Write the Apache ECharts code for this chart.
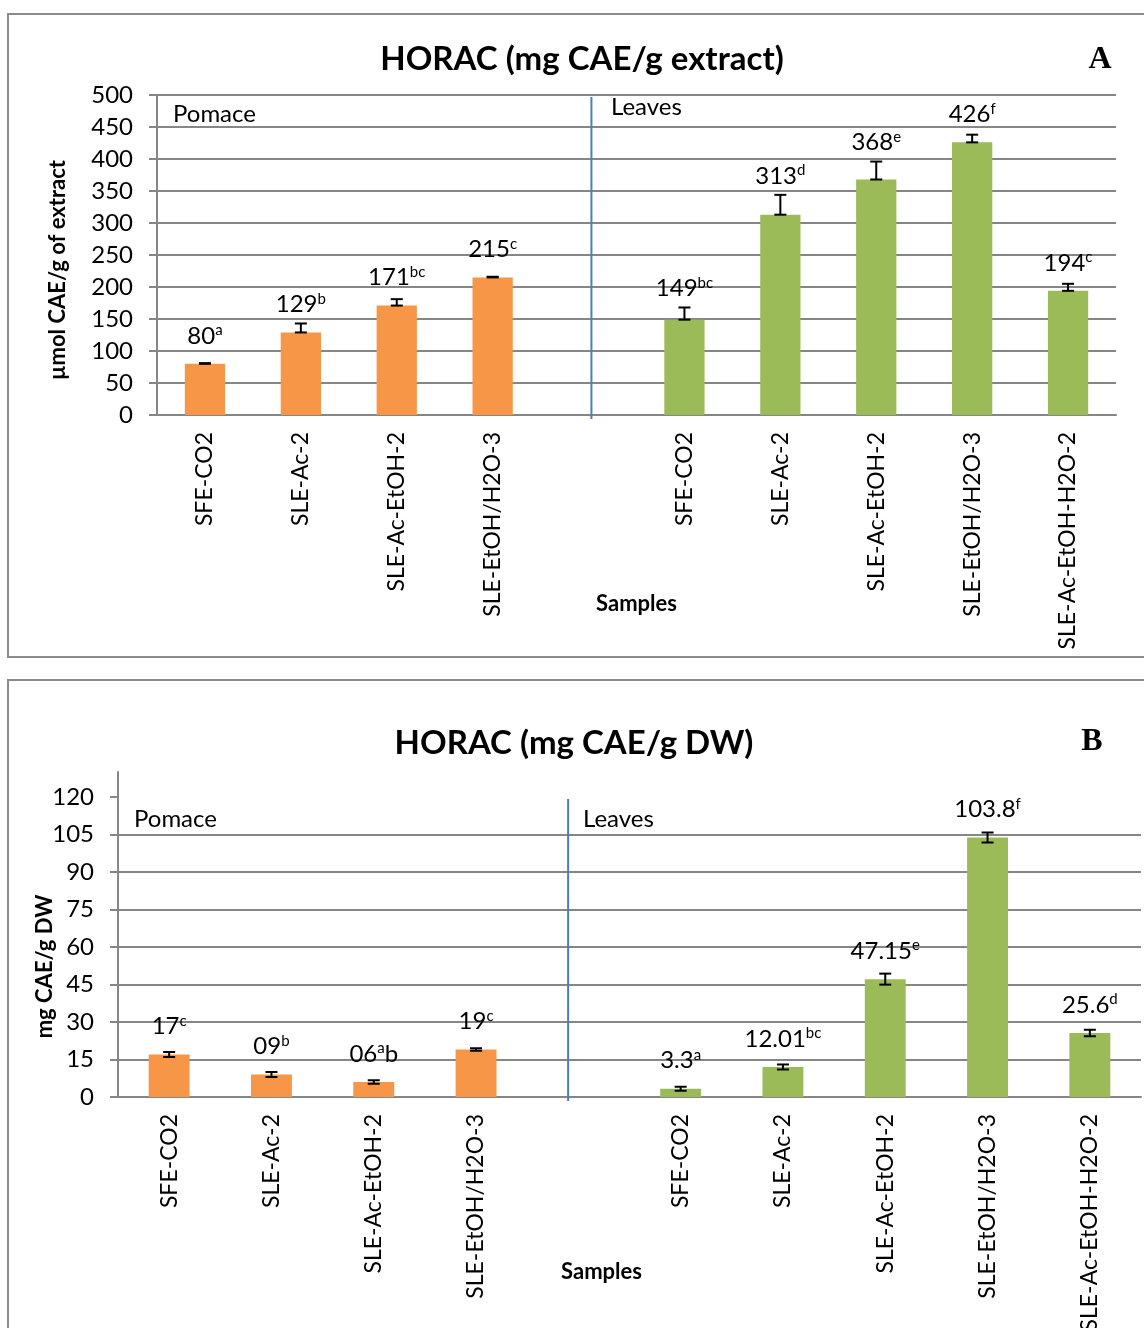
<!DOCTYPE html>
<html>
<head>
<meta charset="utf-8">
<script src="https://cdn.jsdelivr.net/npm/echarts@6/dist/echarts.min.js"></script>
<style>
  html, body { margin: 0; padding: 0; background: #fff; }
  #chart { width: 1144px; height: 1328px; }
</style>
</head>
<body>
<div id="chart"></div>
<script>
// Sample names along the x axis; the blank slot separates pomace from leaves
const samples = ['SFE-CO2', 'SLE-Ac-2', 'SLE-Ac-EtOH-2', 'SLE-EtOH/H2O-3', '',
                 'SFE-CO2', 'SLE-Ac-2', 'SLE-Ac-EtOH-2', 'SLE-EtOH/H2O-3', 'SLE-Ac-EtOH-H2O-2'];
const groups = ['Pomace', 'Pomace', 'Pomace', 'Pomace', null,
                'Leaves', 'Leaves', 'Leaves', 'Leaves', 'Leaves'];

// Panel A: HORAC per g extract
const extractValues  = [80, 129, 171, 215, null, 149, 313, 368, 426, 194];
const extractText    = ['80', '129', '171', '215', '', '149', '313', '368', '426', '194'];
const extractLetters = ['a', 'b', 'bc', 'c', '', 'bc', 'd', 'e', 'f', 'c'];
const extractTrail   = ['', '', '', '', '', '', '', '', '', ''];
const extractErr     = [1, 14, 10, 1, null, 19, 31, 28, 12, 11];
const extractTicks   = [0, 50, 100, 150, 200, 250, 300, 350, 400, 450, 500];

// Panel B: HORAC per g dry weight
const dwValues  = [17, 9, 6, 19, null, 3.3, 12.01, 47.15, 103.8, 25.6];
const dwText    = ['17', '09', '06', '19', '', '3.3', '12.01', '47.15', '103.8', '25.6'];
const dwLetters = ['c', 'b', 'a', 'c', '', 'a', 'bc', 'e', 'f', 'd'];
const dwTrail   = ['', '', 'b', '', '', '', '', '', '', ''];
const dwErr     = [1, 1, 0.7, 0.5, null, 0.8, 1, 2.2, 2, 1.3];
const dwTicks   = [0, 15, 30, 45, 60, 75, 90, 105, 120];

const FONT = 'Lato';
const GRID_COLOR = '#868686';
const groupColor = { Pomace: '#F79646', Leaves: '#9BBB59' };

// plot frames
const gridA = { left: 157, top: 95, width: 959, height: 320 };
const gridB = { left: 118, top: 772, width: 1023, height: 325 };
const axisMaxA = 500, axisMaxB = 130;

function barSeries(idx, values, text, letters, trail, errs, pxPerUnit) {
  return {
    type: 'bar', xAxisIndex: idx, yAxisIndex: idx,
    barWidth: idx === 0 ? '42%' : '40%',
    data: values.map((v, i) => {
      if (v == null) return '-';
      // keep the value label clear of the whisker above the bar
      const errPx = (errs[i] || 0) * pxPerUnit;
      return { value: v, label: { distance: Math.max(15, errPx + 6) } };
    }),
    itemStyle: { color: p => groupColor[groups[p.dataIndex]] || '#999' },
    label: {
      show: true, position: 'top',
      formatter: p => {
        const i = p.dataIndex;
        if (values[i] == null) return '';
        let s = '{v|' + text[i] + '}{s|' + letters[i] + '}';
        if (trail[i]) s += '{v|' + trail[i] + '}';
        return s;
      },
      rich: {
        v: { fontSize: 24, fontFamily: FONT, color: '#000', lineHeight: 26 },
        s: { fontSize: 15, fontFamily: FONT, color: '#000', lineHeight: 15, verticalAlign: 'top' }
      }
    },
    z: 2
  };
}

function errorSeries(idx, values, errs, plusOnly) {
  const pts = [];
  values.forEach((v, i) => { if (v != null) pts.push([i, v, errs[i]]); });
  return {
    type: 'custom', xAxisIndex: idx, yAxisIndex: idx, z: 5,
    data: pts,
    renderItem(params, api) {
      const i = api.value(0), v = api.value(1), e = api.value(2);
      const lo = api.coord([i, plusOnly ? v : v - e]);
      const hi = api.coord([i, v + e]);
      const w = 6;
      const style = { stroke: '#000', lineWidth: 2 };
      return {
        type: 'group', children: [
          { type: 'line', shape: { x1: hi[0], y1: hi[1], x2: lo[0], y2: lo[1] }, style },
          { type: 'line', shape: { x1: hi[0] - w, y1: hi[1], x2: hi[0] + w, y2: hi[1] }, style },
          { type: 'line', shape: { x1: lo[0] - w, y1: lo[1], x2: lo[0] + w, y2: lo[1] }, style }
        ]
      };
    }
  };
}

// vertical separator between the pomace and leaves groups
function dividerSeries(idx, slot, top, shift) {
  return {
    type: 'custom', xAxisIndex: idx, yAxisIndex: idx, z: 3,
    data: [[slot, 0, top]],
    renderItem(params, api) {
      const a = api.coord([api.value(0), api.value(1)]);
      const b = api.coord([api.value(0), api.value(2)]);
      const dx = api.size([1, 0])[0] * shift;
      return {
        type: 'line',
        shape: { x1: a[0] + dx, y1: a[1] + 4, x2: b[0] + dx, y2: b[1] + 2 },
        style: { stroke: '#4A7EBB', lineWidth: 2 }
      };
    }
  };
}

function xAxisCfg(idx, nameGap, namePad) {
  return {
    gridIndex: idx, type: 'category', data: samples,
    axisLine: { lineStyle: { color: GRID_COLOR, width: 2 } },
    axisTick: { length: 8, lineStyle: { color: GRID_COLOR, width: 2 } },
    axisLabel: { rotate: 90, interval: 0, margin: 17, fontSize: 23, fontFamily: FONT, color: '#000' },
    name: 'Samples', nameLocation: 'middle', nameGap: nameGap, nameMoveOverlap: false,
    nameTextStyle: { fontSize: 22, fontWeight: 'bold', fontFamily: FONT, color: '#000', padding: namePad }
  };
}

const chart = echarts.init(document.getElementById('chart'), null, { renderer: 'canvas' });

chart.setOption({
  backgroundColor: '#fff',
  animation: false,
  title: [
    { text: 'HORAC (mg CAE/g extract)', left: 577, top: 38, textAlign: 'center',
      textStyle: { fontSize: 33, fontWeight: 'bold', fontFamily: FONT, color: '#000' } },
    { text: 'HORAC (mg CAE/g DW)', left: 569, top: 722, textAlign: 'center',
      textStyle: { fontSize: 33, fontWeight: 'bold', fontFamily: FONT, color: '#000' } }
  ],
  grid: [
    Object.assign({}, gridA, { containLabel: false, outerBoundsMode: 'none' }),
    Object.assign({}, gridB, { containLabel: false, outerBoundsMode: 'none' })
  ],
  xAxis: [xAxisCfg(0, 178, [0, 0, 0, 0]), xAxisCfg(1, 164, [0, 56, 0, 0])],
  yAxis: [
    {
      gridIndex: 0, type: 'value', min: 0, max: axisMaxA, interval: 50,
      axisLine: { show: true, lineStyle: { color: GRID_COLOR, width: 2 } },
      axisTick: { show: true, length: 8, lineStyle: { color: GRID_COLOR, width: 2 } },
      splitLine: { lineStyle: { color: GRID_COLOR, width: 2 } },
      axisLabel: { margin: 24, fontSize: 24, fontFamily: FONT, color: '#000', customValues: extractTicks },
      name: 'µmol CAE/g of extract', nameLocation: 'middle', nameGap: 88, nameMoveOverlap: false,
      nameTextStyle: { fontSize: 22, fontWeight: 'bold', fontFamily: FONT, color: '#000', padding: [0, 30, 0, 0] }
    },
    {
      gridIndex: 1, type: 'value', min: 0, max: axisMaxB, interval: 15,
      axisLine: { show: true, lineStyle: { color: GRID_COLOR, width: 2 } },
      axisTick: { show: true, length: 8, lineStyle: { color: GRID_COLOR, width: 2 }, customValues: dwTicks },
      splitLine: { lineStyle: { color: GRID_COLOR, width: 2 }, showMaxLine: false },
      axisLabel: { margin: 24, fontSize: 24, fontFamily: FONT, color: '#000', customValues: dwTicks },
      name: 'mg CAE/g DW', nameLocation: 'middle', nameGap: 62, nameMoveOverlap: false,
      nameTextStyle: { fontSize: 22, fontWeight: 'bold', fontFamily: FONT, color: '#000', padding: [0, 64, 0, 0] }
    }
  ],
  series: [
    barSeries(0, extractValues, extractText, extractLetters, extractTrail, extractErr, gridA.height / axisMaxA),
    errorSeries(0, extractValues, extractErr, true),
    dividerSeries(0, 4, 500, 0.03),
    barSeries(1, dwValues, dwText, dwLetters, dwTrail, dwErr, gridB.height / axisMaxB),
    errorSeries(1, dwValues, dwErr, false),
    dividerSeries(1, 4, 120, -0.1)
  ],
  graphic: [
    // panel frames
    { type: 'rect', shape: { x: 8, y: 14, width: 1160, height: 643 },
      style: { fill: null, stroke: '#8C8C8C', lineWidth: 2 }, silent: true },
    { type: 'rect', shape: { x: 8, y: 680, width: 1160, height: 700 },
      style: { fill: null, stroke: '#8C8C8C', lineWidth: 2 }, silent: true },
    // panel letters
    { type: 'text', x: 1100, y: 60, style: { text: 'A', font: 'bold 32px "Liberation Serif"', fill: '#000', align: 'center', verticalAlign: 'middle' } },
    { type: 'text', x: 1092, y: 742, style: { text: 'B', font: 'bold 32px "Liberation Serif"', fill: '#000', align: 'center', verticalAlign: 'middle' } },
    // group captions
    { type: 'text', x: 173, y: 114, style: { text: 'Pomace', font: '24px Lato', fill: '#000', verticalAlign: 'middle' } },
    { type: 'text', x: 611, y: 107, style: { text: 'Leaves', font: '24px Lato', fill: '#000', verticalAlign: 'middle' } },
    { type: 'text', x: 134, y: 819, style: { text: 'Pomace', font: '24px Lato', fill: '#000', verticalAlign: 'middle' } },
    { type: 'text', x: 583, y: 819, style: { text: 'Leaves', font: '24px Lato', fill: '#000', verticalAlign: 'middle' } }
  ]
});
</script>
</body>
</html>
